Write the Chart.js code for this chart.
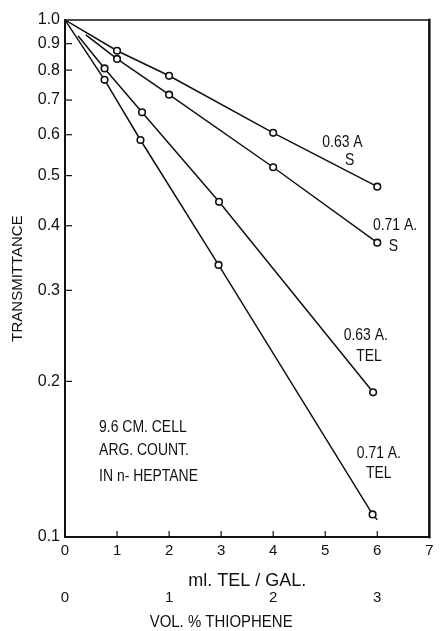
<!DOCTYPE html>
<html>
<head>
<meta charset="utf-8">
<script src="https://cdn.jsdelivr.net/npm/chart.js@4/dist/chart.umd.min.js"></script>
<style>
  html, body { margin: 0; padding: 0; background: #fff; }
  #wrap { width: 440px; height: 631px; position: relative; }
</style>
</head>
<body>
<div id="wrap"><canvas id="c"></canvas></div>
<script>
// ml TEL per gallon (x) and transmittance (y) for each absorption band
const x063S = [1, 2, 4, 6];
const t063S = [0.872, 0.780, 0.605, 0.476];
const x071S = [1, 2, 4, 6];
const t071S = [0.841, 0.717, 0.519, 0.371];
const x063TEL = [0.76, 1.48, 2.96, 5.92];
const t063TEL = [0.806, 0.663, 0.445, 0.1905];
const x071TEL = [0.76, 1.45, 2.95, 5.91];
const t071TEL = [0.766, 0.586, 0.336, 0.1106];

// where each drawn line starts, and where it stops
const lineStartX = [0, 0.4, 0.25, 0];
const lineStartT = [1.0, 0.936, 0.932, 1.0];
const lineEndX = [6, 6, 5.92, 6.0];
const lineEndT = [0.476, 0.371, 0.1905, 0.108];

// axis ticks
const mlTicks = [0, 1, 2, 3, 4, 5, 6, 7];
const volTicks = [0, 1, 2, 3];
const tTicks = [0.1, 0.2, 0.3, 0.4, 0.5, 0.6, 0.7, 0.8, 0.9, 1.0];

// curve labels and the cell note
const noteText = ['0.63 A', 'S', '0.71 A.', 'S', '0.63 A.', 'TEL', '0.71 A.', 'TEL'];
const noteX = [5.33, 5.47, 6.34, 6.31, 5.78, 5.84, 6.03, 6.03];
const noteT = [0.580, 0.536, 0.401, 0.365, 0.246, 0.224, 0.145, 0.133];
const cellText = ['9.6 CM. CELL', 'ARG. COUNT.', 'IN n- HEPTANE'];
const cellX = 0.655;
const cellT = [0.163, 0.147, 0.131];

const FONT = "'Liberation Sans', Arial, sans-serif";
const INK = '#111';

const toPts = (xs, ys) => xs.map((x, i) => ({ x: x, y: ys[i] }));

const seriesX = [x063S, x071S, x063TEL, x071TEL];
const seriesT = [t063S, t071S, t063TEL, t071TEL];

const datasets = [];
seriesX.forEach((xs, k) => {
  const pts = toPts(xs, seriesT[k]);
  const linePts = [{ x: lineStartX[k], y: lineStartT[k] }, ...pts];
  const last = pts[pts.length - 1];
  if (lineEndX[k] !== last.x || lineEndT[k] !== last.y) linePts.push({ x: lineEndX[k], y: lineEndT[k] });
  datasets.push({
    data: linePts, showLine: true, borderColor: INK, borderWidth: 1.5,
    pointRadius: 0, fill: false, tension: 0, order: 2
  });
  datasets.push({
    data: pts, showLine: false, pointStyle: 'circle', pointRadius: 3.3,
    pointBorderWidth: 1.6, pointBorderColor: INK, pointBackgroundColor: '#fff', order: 1
  });
});

// draws text squeezed horizontally, like narrow drafting lettering
function narrowText(ctx, text, px, py, align, squeeze) {
  ctx.save();
  ctx.translate(px, py);
  ctx.scale(squeeze, 1);
  ctx.textAlign = align;
  ctx.fillText(text, 0, 0);
  ctx.restore();
}

const framePlugin = {
  id: 'frame',
  afterDraw(chart) {
    const { ctx, chartArea: a, scales } = chart;
    const x = scales.x, y = scales.y, x2 = scales.x2;
    ctx.save();
    ctx.strokeStyle = INK;
    ctx.lineCap = 'square';
    // frame
    ctx.lineWidth = 2;
    ctx.beginPath(); ctx.moveTo(a.left, a.top); ctx.lineTo(a.left, a.bottom); ctx.lineTo(a.right, a.bottom); ctx.stroke();
    ctx.lineWidth = 1.5;
    ctx.beginPath(); ctx.moveTo(a.left, a.top); ctx.lineTo(a.right, a.top); ctx.stroke();
    ctx.lineWidth = 2.5;
    ctx.beginPath(); ctx.moveTo(a.right, a.top); ctx.lineTo(a.right, a.bottom); ctx.stroke();
    // inward tick marks
    ctx.lineWidth = 1.2;
    ctx.lineCap = 'butt';
    mlTicks.slice(1, -1).forEach(v => {
      const px = x.getPixelForValue(v);
      ctx.beginPath(); ctx.moveTo(px, a.bottom); ctx.lineTo(px, a.bottom - 6); ctx.stroke();
    });
    tTicks.slice(1, -1).forEach(v => {
      const py = y.getPixelForValue(v);
      ctx.beginPath(); ctx.moveTo(a.left, py); ctx.lineTo(a.left + 7, py); ctx.stroke();
    });
    // curve labels
    ctx.fillStyle = INK;
    ctx.font = '17px ' + FONT;
    ctx.textBaseline = 'middle';
    noteText.forEach((t, i) => {
      narrowText(ctx, t, x.getPixelForValue(noteX[i]), y.getPixelForValue(noteT[i]), 'center', 0.82);
    });
    cellText.forEach((t, i) => {
      narrowText(ctx, t, x.getPixelForValue(cellX), y.getPixelForValue(cellT[i]), 'left', 0.82);
    });
    // title of the volume-percent scale, centred under its 0-3 range
    narrowText(ctx, 'VOL. % THIOPHENE', x2.getPixelForValue(1.5), 622, 'center', 0.88);
    ctx.restore();
  }
};

new Chart(document.getElementById('c'), {
  type: 'scatter',
  data: { datasets },
  options: {
    responsive: true,
    maintainAspectRatio: false,
    animation: false,
    layout: { padding: { top: 20, right: 1.5, left: 0, bottom: 0 } },
    plugins: { legend: { display: false }, tooltip: { enabled: false } },
    scales: {
      x: {
        type: 'linear', position: 'bottom', min: 0, max: 7, weight: 0,
        afterBuildTicks: s => { s.ticks = mlTicks.map(v => ({ value: v })); },
        afterFit: s => { s.height = 53; },
        grid: { display: false, drawTicks: false },
        border: { display: false },
        ticks: { padding: 6.5, color: INK, maxRotation: 0, autoSkip: false,
                 font: { family: FONT, size: 15, lineHeight: 1 } },
        title: { display: true, text: 'ml. TEL / GAL.', color: INK,
                 font: { family: FONT, size: 18, lineHeight: 1 }, padding: { top: 0, bottom: 0 } }
      },
      x2: {
        type: 'linear', position: 'bottom', min: 0, max: 3.5, weight: 1,
        afterBuildTicks: s => { s.ticks = volTicks.map(v => ({ value: v })); },
        afterFit: s => { s.height = 41; },
        grid: { display: false, drawTicks: false },
        border: { display: false },
        ticks: { padding: 0, color: INK, maxRotation: 0, autoSkip: false,
                 font: { family: FONT, size: 15, lineHeight: 1 } }
      },
      y: {
        type: 'logarithmic', position: 'left', min: 0.1, max: 1.0,
        afterBuildTicks: s => { s.ticks = tTicks.map(v => ({ value: v })); },
        afterFit: s => { s.width = 65; },
        grid: { display: false, drawTicks: false },
        border: { display: false },
        ticks: { padding: 5, color: INK, autoSkip: false,
                 font: { family: FONT, size: 16, lineHeight: 1 },
                 callback: v => Number(v).toFixed(1) },
        title: { display: true, text: 'TRANSMITTANCE', color: INK,
                 font: { family: FONT, size: 15, lineHeight: 1 }, padding: { top: 10, bottom: 0 } }
      }
    }
  },
  plugins: [framePlugin]
});
</script>
</body>
</html>
